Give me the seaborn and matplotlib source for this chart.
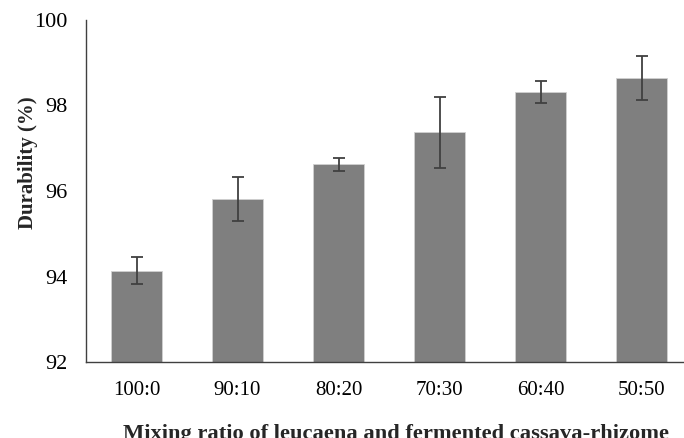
import matplotlib
matplotlib.use("Agg")
import matplotlib.pyplot as plt
import seaborn as sns
import pandas as pd

categories = ["100:0", "90:10", "80:20", "70:30", "60:40", "50:50"]
durability = [94.14, 95.81, 96.62, 97.37, 98.32, 98.64]
errors = [0.31, 0.52, 0.15, 0.83, 0.25, 0.51]

sns.set_theme(style="white")
plt.rcParams['font.family'] = ['Liberation Serif', 'DejaVu Serif']

df = pd.DataFrame({"ratio": categories, "durability": durability, "err": errors})

fig = plt.figure(figsize=(6.84, 4.38), dpi=100)
ax = fig.add_axes([86/684, 1-362/438, 598/684, 342/438])

sns.barplot(data=df, x="ratio", y="durability", color="#7f7f7f", saturation=1,
            width=0.505, edgecolor="#d0d0d0", linewidth=0.6, ax=ax)
ax.errorbar(range(len(categories)), df["durability"], yerr=df["err"], fmt="none",
            ecolor="#404040", elinewidth=1.3, capsize=4, capthick=1.3)

ax.set_ylim(92, 100)
ax.set_yticks([92, 94, 96, 98, 100])
ax.set_xlim(-0.5, 5.42)
ax.tick_params(axis="both", length=0, colors="black")
ax.tick_params(axis="x", pad=14, labelsize=15)
ax.tick_params(axis="y", pad=13.5, labelsize=16)
for s in ["top", "right"]:
    ax.spines[s].set_visible(False)
ax.spines["left"].set_color("#404040")
ax.spines["bottom"].set_color("#404040")
ax.spines["left"].set_linewidth(1.0)
ax.spines["bottom"].set_linewidth(1.0)

ax.set_ylabel("Durability (%)", fontsize=15, fontweight="bold", labelpad=-3)
ax.yaxis.label.set_y(0.582)
ax.set_xlabel("Mixing ratio of leucaena and fermented cassava-rhizome",
              fontsize=16.2, fontweight="bold", labelpad=17)
ax.xaxis.label.set_x(0.518)

fig.savefig("out.png", dpi=100)
